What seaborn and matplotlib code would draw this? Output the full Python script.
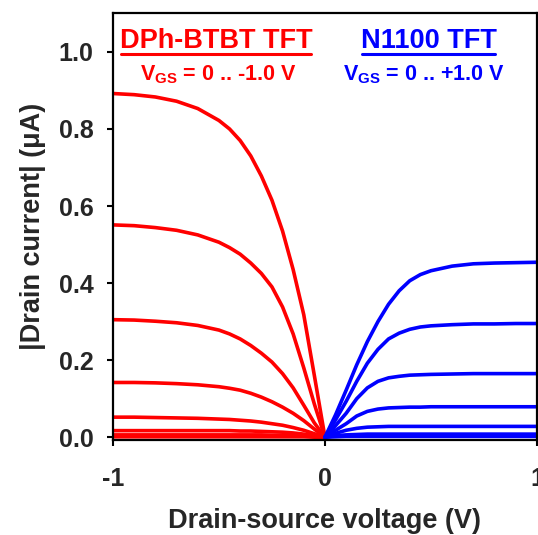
import numpy as np
import pandas as pd
import matplotlib
matplotlib.use("Agg")
import matplotlib.pyplot as plt
import seaborn as sns
from matplotlib.lines import Line2D

# Datos (Vds en V, |Id| en uA)
vds_p = [-1.0, -0.9, -0.8, -0.7, -0.6, -0.5, -0.45, -0.4, -0.35, -0.3, -0.25, -0.2, -0.15, -0.1, -0.05, 0.0]
id_p = [
    [0.892, 0.889, 0.883, 0.872, 0.853, 0.822, 0.800, 0.770, 0.730, 0.678, 0.615, 0.535, 0.435, 0.318, 0.160, 0.0],
    [0.551, 0.549, 0.544, 0.537, 0.525, 0.506, 0.492, 0.475, 0.452, 0.425, 0.390, 0.338, 0.268, 0.180, 0.086, 0.0],
    [0.305, 0.304, 0.301, 0.297, 0.290, 0.278, 0.268, 0.255, 0.238, 0.218, 0.195, 0.165, 0.128, 0.083, 0.037, 0.0],
    [0.142, 0.142, 0.141, 0.139, 0.136, 0.131, 0.127, 0.122, 0.114, 0.104, 0.092, 0.078, 0.062, 0.043, 0.021, 0.0],
    [0.052, 0.052, 0.051, 0.050, 0.049, 0.047, 0.046, 0.044, 0.042, 0.039, 0.035, 0.031, 0.025, 0.018, 0.009, 0.0],
    [0.017, 0.017, 0.017, 0.017, 0.017, 0.017, 0.017, 0.016, 0.016, 0.015, 0.014, 0.013, 0.011, 0.008, 0.004, 0.0],
    [0.006, 0.006, 0.006, 0.006, 0.006, 0.006, 0.006, 0.006, 0.006, 0.006, 0.005, 0.005, 0.004, 0.003, 0.002, 0.0],
    [0.001, 0.001, 0.001, 0.001, 0.001, 0.001, 0.001, 0.001, 0.001, 0.001, 0.001, 0.001, 0.001, 0.001, 0.0, 0.0],
]

vds_n = [0.0, 0.05, 0.1, 0.15, 0.2, 0.25, 0.3, 0.35, 0.4, 0.45, 0.5, 0.6, 0.7, 0.8, 0.9, 1.0]
id_n = [
    [0.0, 0.058, 0.122, 0.188, 0.248, 0.300, 0.345, 0.380, 0.406, 0.422, 0.432, 0.444, 0.450, 0.452, 0.453, 0.454],
    [0.0, 0.045, 0.093, 0.145, 0.192, 0.228, 0.255, 0.270, 0.280, 0.286, 0.289, 0.292, 0.294, 0.294, 0.295, 0.295],
    [0.0, 0.030, 0.062, 0.100, 0.128, 0.145, 0.154, 0.158, 0.161, 0.162, 0.163, 0.164, 0.165, 0.165, 0.165, 0.165],
    [0.0, 0.018, 0.035, 0.055, 0.067, 0.073, 0.076, 0.077, 0.078, 0.078, 0.079, 0.079, 0.079, 0.079, 0.079, 0.079],
    [0.0, 0.010, 0.018, 0.023, 0.026, 0.027, 0.028, 0.028, 0.028, 0.028, 0.028, 0.028, 0.028, 0.028, 0.028, 0.028],
    [0.0, 0.004, 0.006, 0.007, 0.008, 0.008, 0.008, 0.008, 0.008, 0.008, 0.008, 0.008, 0.008, 0.008, 0.008, 0.008],
    [0.0, 0.001, 0.002, 0.002, 0.002, 0.002, 0.002, 0.002, 0.002, 0.002, 0.002, 0.002, 0.002, 0.002, 0.002, 0.002],
]

x_ticks = [-1, 0, 1]
y_ticks = [0.0, 0.2, 0.4, 0.6, 0.8, 1.0]


def to_long(vds, curves):
    rows = []
    for k, c in enumerate(curves):
        for v, i in zip(vds, c):
            rows.append((k, v, i))
    return pd.DataFrame(rows, columns=["curva", "Vds", "Id"])


df_p = to_long(vds_p, id_p)
df_n = to_long(vds_n, id_n)

sns.set_style("ticks")
plt.rcParams["font.family"] = ["Liberation Sans", "DejaVu Sans"]
plt.rcParams["font.weight"] = "bold"
plt.rcParams["mathtext.fontset"] = "custom"
plt.rcParams["mathtext.rm"] = "Liberation Sans:bold"
plt.rcParams["mathtext.bf"] = "Liberation Sans:bold"
plt.rcParams["mathtext.it"] = "Liberation Sans:bold"

fig = plt.figure(figsize=(5.38, 5.35), dpi=100)
ax = fig.add_axes([0.210, 0.1785, 0.788, 0.7965])

sns.lineplot(data=df_p, x="Vds", y="Id", units="curva", estimator=None,
             color="#ff0000", lw=2.6, ax=ax, legend=False)
sns.lineplot(data=df_n, x="Vds", y="Id", units="curva", estimator=None,
             color="#0000ff", lw=2.6, ax=ax, legend=False)
for ln in ax.lines:
    ln.set_solid_joinstyle("round")
    ln.set_solid_capstyle("round")

ax.set_xlim(-1, 1)
ax.set_ylim(-0.006, 1.1)
ax.set_xticks(x_ticks)
ax.set_xticklabels([str(t) for t in x_ticks])
ax.set_yticks(y_ticks)
ax.set_yticklabels([f"{t:.1f}" for t in y_ticks])
ax.tick_params(axis="both", labelsize=18, width=1.5, length=4, color="black")
ax.tick_params(axis="y", pad=10)
ax.tick_params(axis="x", pad=16)
for s in ax.spines.values():
    s.set_linewidth(1.6)
    s.set_color("black")

ax.set_xlabel("Drain-source voltage (V)", fontsize=19.5, fontweight="bold", labelpad=12)
ax.set_ylabel("|Drain current| (\u03bcA)", fontsize=19.5, fontweight="bold", labelpad=9)

t1 = ax.text(-0.514, 1.029, "DPh-BTBT TFT", color="#ff0000", fontsize=19.5,
             fontweight="bold", ha="center", va="center")
t2 = ax.text(0.49, 1.029, "N1100 TFT", color="#0000ff", fontsize=19.5,
             fontweight="bold", ha="center", va="center")
ax.text(-0.505, 0.941, r"$\mathregular{V_{GS}}$ = 0 .. -1.0 V", color="#ff0000",
        fontsize=15.5, fontweight="bold", ha="center", va="center")
ax.text(0.467, 0.941, r"$\mathregular{V_{GS}}$ = 0 .. +1.0 V", color="#0000ff",
        fontsize=15.5, fontweight="bold", ha="center", va="center")

# subrayado de los titulos
fig.canvas.draw()
r = fig.canvas.get_renderer()
for t in (t1, t2):
    bb = t.get_window_extent(renderer=r).transformed(fig.transFigure.inverted())
    y = bb.y0 - 0.001
    fig.add_artist(Line2D([bb.x0 + 0.003, bb.x1 - 0.003], [y, y], color=t.get_color(),
                          lw=2.2, transform=fig.transFigure))

fig.savefig("out.png", dpi=100)
